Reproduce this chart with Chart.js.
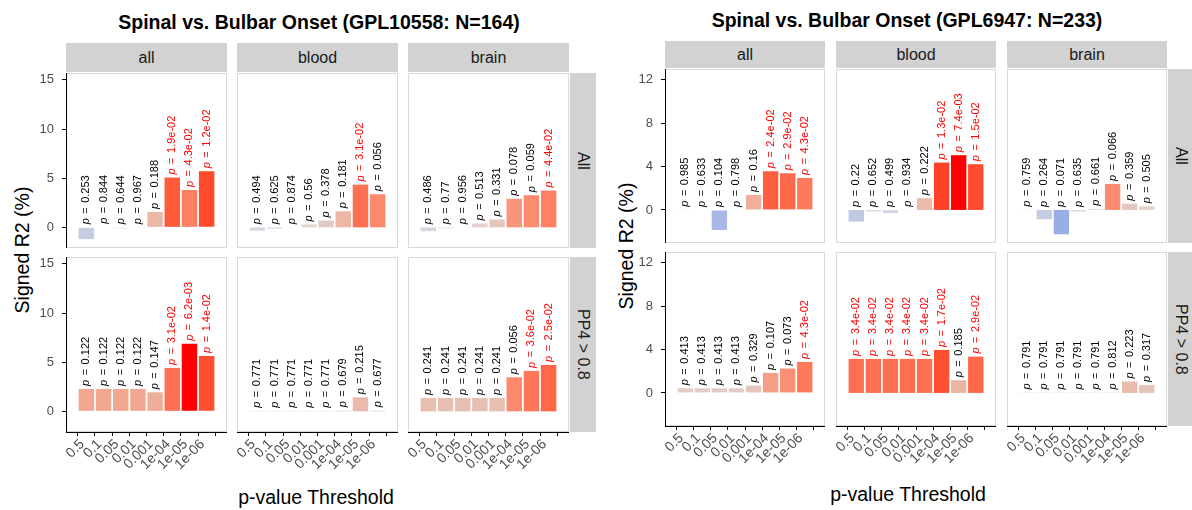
<!DOCTYPE html>
<html>
<head>
<meta charset="utf-8">
<script src="https://cdn.jsdelivr.net/npm/chart.js@4"></script>
<style>
  body { margin: 0; background: #fff; font-family: "Liberation Sans", Arial, sans-serif; }
  #wrap { position: relative; width: 1192px; height: 510px; overflow: hidden; background: #fff; }
  canvas { display: block; }
  .strip { position: absolute; background: #d2d2d2; color: #1a1a1a; font-size: 16px;
           display: flex; align-items: center; justify-content: center; }
  .side { writing-mode: vertical-rl; }
  .title { position: absolute; font-weight: bold; font-size: 19.5px; color: #000; white-space: nowrap; transform: translate(-50%, -50%); }
  .axtitle { position: absolute; font-size: 19.5px; color: #000; white-space: nowrap; }
</style>
</head>
<body>
<div id="wrap"></div>
<script>
// x categories (p-value thresholds)
const thresholds = ['0.5', '0.1', '0.05', '0.01', '0.001', '1e-04', '1e-05', '1e-06'];
const tissues = ['all', 'blood', 'brain'];
const subsets = ['All', 'PP4 > 0.8'];

// GPL10558 (N=164) - signed R2 (%) and p labels
const r2_10558_All_all   = [-1.2, 0.05, -0.1, 0.02, 1.56, 5.07, 3.8, 5.7];
const p_10558_All_all    = ['0.253', '0.844', '0.644', '0.967', '0.188', '1.9e-02', '4.3e-02', '1.2e-02'];
const r2_10558_All_blood = [-0.35, -0.15, 0.02, 0.3, 0.7, 1.63, 4.35, 3.37];
const p_10558_All_blood  = ['0.494', '0.625', '0.874', '0.56', '0.378', '0.181', '3.1e-02', '0.056'];
const r2_10558_All_brain = [-0.4, -0.1, 0.02, 0.4, 0.8, 2.9, 3.27, 3.74];
const p_10558_All_brain  = ['0.486', '0.77', '0.956', '0.513', '0.331', '0.078', '0.059', '4.4e-02'];
const r2_10558_PP4_all   = [2.28, 2.28, 2.28, 2.28, 1.94, 4.42, 6.87, 5.64];
const p_10558_PP4_all    = ['0.122', '0.122', '0.122', '0.122', '0.147', '3.1e-02', '6.2e-03', '1.4e-02'];
const r2_10558_PP4_blood = [0.05, 0.05, 0.05, 0.05, 0.05, 0.1, 1.43, 0.1];
const p_10558_PP4_blood  = ['0.771', '0.771', '0.771', '0.771', '0.771', '0.679', '0.215', '0.677'];
const r2_10558_PP4_brain = [1.36, 1.36, 1.36, 1.36, 1.36, 3.47, 4.11, 4.72];
const p_10558_PP4_brain  = ['0.241', '0.241', '0.241', '0.241', '0.241', '0.056', '3.6e-02', '2.5e-02'];

// GPL6947 (N=233)
const r2_6947_All_all   = [0.02, -0.05, -1.85, -0.03, 1.38, 3.57, 3.38, 2.95];
const p_6947_All_all    = ['0.985', '0.633', '0.104', '0.798', '0.16', '2.4e-02', '2.9e-02', '4.3e-02'];
const r2_6947_All_blood = [-1.08, -0.15, -0.3, 0.02, 1.08, 4.37, 5.05, 4.22];
const p_6947_All_blood  = ['0.22', '0.652', '0.499', '0.934', '0.222', '1.3e-02', '7.4e-03', '1.5e-02'];
const r2_6947_All_brain = [0.02, -0.86, -2.25, -0.15, 0.1, 2.4, 0.58, 0.34];
const p_6947_All_brain  = ['0.759', '0.264', '0.071', '0.635', '0.661', '0.066', '0.359', '0.505'];
const r2_6947_PP4_all   = [0.43, 0.43, 0.43, 0.43, 0.68, 1.85, 2.25, 2.86];
const p_6947_PP4_all    = ['0.413', '0.413', '0.413', '0.413', '0.329', '0.107', '0.073', '4.3e-02'];
const r2_6947_PP4_blood = [3.14, 3.14, 3.14, 3.14, 3.14, 3.97, 1.17, 3.35];
const p_6947_PP4_blood  = ['3.4e-02', '3.4e-02', '3.4e-02', '3.4e-02', '3.4e-02', '1.7e-02', '0.185', '2.9e-02'];
const r2_6947_PP4_brain = [0.03, 0.03, 0.03, 0.03, 0.03, 0.05, 1.05, 0.74];
const p_6947_PP4_brain  = ['0.791', '0.791', '0.791', '0.791', '0.791', '0.812', '0.223', '0.317'];

const yTicks10558 = [0, 5, 10, 15];
const yTicks6947 = [0, 4, 8, 12];

// layout of the two figures
const figures = [
  {
    title: 'Spinal vs. Bulbar Onset (GPL10558: N=164)', titleX: 319, titleY: 22,
    colX: [66, 237, 408], w: 161, rowY: [73, 257], h: 175,
    stripTop: 43, sideX: 570, sideW: 26, yMin: -2.1, yMax: 15.7, yTicks: yTicks10558,
    xlabX: 316, xlabY: 497, ylabX: 22, ylabY: 250,
    r2: [[r2_10558_All_all, r2_10558_All_blood, r2_10558_All_brain],
         [r2_10558_PP4_all, r2_10558_PP4_blood, r2_10558_PP4_brain]],
    p:  [[p_10558_All_all, p_10558_All_blood, p_10558_All_brain],
         [p_10558_PP4_all, p_10558_PP4_blood, p_10558_PP4_brain]]
  },
  {
    title: 'Spinal vs. Bulbar Onset (GPL6947: N=233)', titleX: 907, titleY: 20,
    colX: [665, 836, 1007], w: 160, rowY: [69, 252], h: 174,
    stripTop: 41, sideX: 1168, sideW: 26, yMin: -3.05, yMax: 13.0, yTicks: yTicks6947,
    xlabX: 908, xlabY: 494, ylabX: 626, ylabY: 246,
    r2: [[r2_6947_All_all, r2_6947_All_blood, r2_6947_All_brain],
         [r2_6947_PP4_all, r2_6947_PP4_blood, r2_6947_PP4_brain]],
    p:  [[p_6947_All_all, p_6947_All_blood, p_6947_All_brain],
         [p_6947_PP4_all, p_6947_PP4_blood, p_6947_PP4_brain]]
  }
];

const FONT = '"Liberation Sans", Arial, sans-serif';
const YW = 40, XH = 55, PAD = 10;

// fill colour scale (signed -log10 p), grey in the middle
const redStops = [[0, [230, 230, 230]], [0.2, [228, 200, 193]], [0.33, [235, 184, 166]], [0.5, [249, 149, 124]],
                  [0.62, [255, 127, 98]], [0.78, [255, 90, 58]], [0.87, [255, 74, 44]], [1, [255, 0, 0]]];
const blueStops = [[0, [230, 230, 230]], [0.27, [198, 204, 225]], [0.46, [170, 184, 232]], [0.54, [154, 174, 230]], [1, [80, 110, 230]]];

function interp(stops, t) {
  t = Math.max(0, Math.min(1, t));
  for (let i = 1; i < stops.length; i++) {
    if (t <= stops[i][0]) {
      const [t0, c0] = stops[i - 1], [t1, c1] = stops[i];
      const f = (t - t0) / (t1 - t0);
      const c = c0.map((v, k) => Math.round(v + (c1[k] - v) * f));
      return `rgb(${c[0]},${c[1]},${c[2]})`;
    }
  }
  return 'rgb(255,0,0)';
}

const labelPlugin = {
  id: 'pLabels',
  beforeDraw(chart) {
    const { ctx, chartArea: a } = chart;
    ctx.save();
    ctx.fillStyle = '#fff';
    ctx.fillRect(a.left, a.top, a.right - a.left, a.bottom - a.top);
    ctx.strokeStyle = '#d9d9d9';
    ctx.lineWidth = 1;
    ctx.strokeRect(a.left + 0.5, a.top + 0.5, a.right - a.left - 1, a.bottom - a.top - 1);
    ctx.restore();
  },
  afterDatasetsDraw(chart) {
    const { ctx } = chart;
    const labels = chart.options.plugins.pLabels.labels;
    const ys = chart.scales.y;
    const ds = chart.data.datasets[0].data;
    chart.getDatasetMeta(0).data.forEach((bar, i) => {
      const v = ds[i].y;
      const pv = parseFloat(labels[i]);
      const y0 = ys.getPixelForValue(Math.max(v, 0)) - 3;
      ctx.save();
      ctx.translate(bar.x, y0);
      ctx.rotate(-Math.PI / 2);
      ctx.textBaseline = 'middle';
      ctx.textAlign = 'left';
      ctx.fillStyle = pv < 0.05 ? '#ff0000' : '#000000';
      // italic p, then "=" and the value with plotmath-like spacing
      ctx.font = 'italic 11px ' + FONT;
      ctx.fillText('p', 0, 0);
      let x = ctx.measureText('p').width + 4.5;
      ctx.font = '11px ' + FONT;
      ctx.fillText('=', x, 0);
      x += ctx.measureText('=').width + 4.5;
      ctx.fillText(labels[i], x, 0);
      ctx.restore();
    });
  }
};

const wrap = document.getElementById('wrap');

function addDiv(cls, x, y, w, h, text) {
  const d = document.createElement('div');
  d.className = cls;
  d.style.left = x + 'px'; d.style.top = y + 'px';
  if (w != null) d.style.width = w + 'px';
  if (h != null) d.style.height = h + 'px';
  d.textContent = text;
  wrap.appendChild(d);
  return d;
}

figures.forEach(fig => {
  // maximum -log10 p within the figure for the fill scale
  let maxV = 0;
  fig.p.flat().forEach(arr => arr.forEach(s => { maxV = Math.max(maxV, -Math.log10(parseFloat(s))); }));

  addDiv('title', fig.titleX, fig.titleY, null, null, fig.title);
  const xl = addDiv('axtitle', fig.xlabX, fig.xlabY, null, null, 'p-value Threshold');
  xl.style.transform = 'translate(-50%, -50%)';
  const yl = addDiv('axtitle', fig.ylabX, fig.ylabY, null, null, 'Signed R2 (%)');
  yl.style.transform = 'translate(-50%, -50%) rotate(-90deg)';

  tissues.forEach((t, c) => {
    addDiv('strip', fig.colX[c], fig.stripTop, fig.w, fig.rowY[0] - fig.stripTop - 1, t);
  });
  subsets.forEach((s, r) => {
    addDiv('strip side', fig.sideX, fig.rowY[r], fig.sideW, fig.h, s);
  });

  for (let r = 0; r < 2; r++) {
    for (let c = 0; c < 3; c++) {
      const r2 = fig.r2[r][c];
      const pl = fig.p[r][c];
      const showX = r === 1, showY = c === 0;
      const left = fig.colX[c] - (showY ? YW : 0);
      const width = fig.w + (showY ? YW : 0);
      const height = fig.h + PAD + (showX ? XH : 0);
      const cv = document.createElement('canvas');
      cv.width = width; cv.height = height;
      cv.style.position = 'absolute';
      cv.style.left = left + 'px'; cv.style.top = (fig.rowY[r] - PAD) + 'px';
      cv.style.width = width + 'px'; cv.style.height = height + 'px';
      wrap.appendChild(cv);

      const colors = r2.map((v, i) => {
        const s = Math.sign(v) * -Math.log10(parseFloat(pl[i])) / maxV;
        return s >= 0 ? interp(redStops, s) : interp(blueStops, -s);
      });

      new Chart(cv.getContext('2d'), {
        type: 'bar',
        data: {
          datasets: [{
            data: r2.map((v, i) => ({ x: i + 1, y: v })),
            backgroundColor: colors,
            borderWidth: 0,
            barPercentage: 1,
            categoryPercentage: 0.9
          }]
        },
        options: {
          responsive: false,
          maintainAspectRatio: false,
          animation: false,
          devicePixelRatio: 1,
          layout: { padding: { top: PAD, left: 0, right: 0, bottom: 0 } },
          plugins: { legend: { display: false }, tooltip: { enabled: false }, pLabels: { labels: pl } },
          scales: {
            x: {
              type: 'linear', min: 0.4, max: 8.6,
              display: showX,
              afterBuildTicks: s => { s.ticks = thresholds.map((_, i) => ({ value: i + 1 })); },
              afterFit: s => { if (showX) { s.height = XH; s.paddingLeft = 0; s.paddingRight = 0; } },
              grid: { display: true, drawOnChartArea: false, drawTicks: true, tickLength: 4, color: '#000' },
              border: { display: true, color: '#000', width: 1 },
              ticks: {
                autoSkip: false, minRotation: 45, maxRotation: 45, padding: 0, labelOffset: -4,
                color: '#4d4d4d', font: { family: FONT, size: 14 },
                callback: v => thresholds[v - 1]
              }
            },
            y: {
              type: 'linear', min: fig.yMin, max: fig.yMax,
              display: showY,
              afterBuildTicks: s => { s.ticks = fig.yTicks.map(v => ({ value: v })); },
              afterFit: s => { if (showY) { s.width = YW; s.paddingTop = 0; s.paddingBottom = 0; } },
              grid: { display: true, drawOnChartArea: false, drawTicks: true, tickLength: 4, color: '#000' },
              border: { display: true, color: '#000', width: 1 },
              ticks: { padding: 8, color: '#4d4d4d', font: { family: FONT, size: 13 } }
            }
          }
        },
        plugins: [labelPlugin]
      });
    }
  }
});
</script>
</body>
</html>
